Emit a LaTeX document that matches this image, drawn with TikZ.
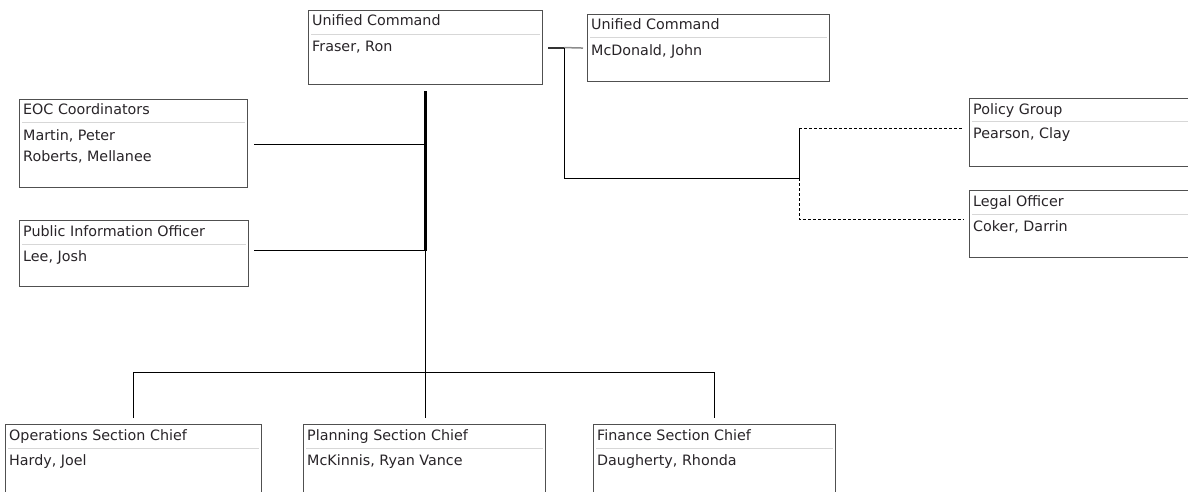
\documentclass[tikz,border=0pt]{standalone}
\usepackage{fontspec}
\setmainfont{DejaVu Sans}
\usetikzlibrary{positioning, calc}
\definecolor{boxgray}{RGB}{80,80,80}
\definecolor{sepgray}{RGB}{215,215,215}
\definecolor{txtgray}{RGB}{40,36,40}

\begin{document}
\begin{tikzpicture}[x=1pt, y=-1pt,
  orgbox/.style={draw=boxgray, line width=1.1pt, anchor=north west, inner sep=0pt, fill=white},
  title/.style={anchor=base west, inner sep=0pt, text=txtgray, font=\fontsize{14.3}{17}\selectfont},
  member/.style={title},
  sep/.style={draw=sepgray, line width=1pt},
  link/.style={line width=1pt, black},
  dashlink/.style={link, dash pattern=on 3pt off 2pt},
]
\useasboundingbox (0,0) rectangle (1188,492);
\clip (0,0) rectangle (1188,492);

% Command
\node[orgbox, minimum width=234pt, minimum height=74pt] (uc1) at (308,10) {};
\node[title] at ([shift={(4pt,-16pt)}]uc1.north west) {Unified Command};
\draw[sep] ([shift={(3pt,-25pt)}]uc1.north west) -- ([shift={(-3pt,-25pt)}]uc1.north east);
\node[member] at ([shift={(4pt,-42pt)}]uc1.north west) {Fraser, Ron};

\node[orgbox, minimum width=242pt, minimum height=67pt] (uc2) at (587,14) {};
\node[title] at ([shift={(4pt,-16pt)}]uc2.north west) {Unified Command};
\draw[sep] ([shift={(3pt,-24pt)}]uc2.north west) -- ([shift={(-3pt,-24pt)}]uc2.north east);
\node[member] at ([shift={(4pt,-42pt)}]uc2.north west) {McDonald, John};

% Command staff
\node[orgbox, minimum width=228pt, minimum height=88pt] (eoc) at (19,99) {};
\node[title] at ([shift={(4pt,-16pt)}]eoc.north west) {EOC Coordinators};
\draw[sep] ([shift={(3pt,-24pt)}]eoc.north west) -- ([shift={(-3pt,-24pt)}]eoc.north east);
\node[member] at ([shift={(4pt,-41pt)}]eoc.north west) {Martin, Peter};
\node[member] at ([shift={(4pt,-62pt)}]eoc.north west) {Roberts, Mellanee};

\node[orgbox, minimum width=229pt, minimum height=66pt] (pio) at (19,220) {};
\node[title] at ([shift={(4pt,-16pt)}]pio.north west) {Public Information Officer};
\draw[sep] ([shift={(3pt,-24pt)}]pio.north west) -- ([shift={(-3pt,-24pt)}]pio.north east);
\node[member] at ([shift={(4pt,-41pt)}]pio.north west) {Lee, Josh};

% Advisors
\node[orgbox, minimum width=226pt, minimum height=68pt] (policy) at (969,98) {};
\node[title] at ([shift={(4pt,-16pt)}]policy.north west) {Policy Group};
\draw[sep] ([shift={(3pt,-24pt)}]policy.north west) -- ([shift={(-3pt,-24pt)}]policy.north east);
\node[member] at ([shift={(4pt,-41pt)}]policy.north west) {Pearson, Clay};

\node[orgbox, minimum width=226pt, minimum height=67pt] (legal) at (969,190) {};
\node[title] at ([shift={(4pt,-16pt)}]legal.north west) {Legal Officer};
\draw[sep] ([shift={(3pt,-24pt)}]legal.north west) -- ([shift={(-3pt,-24pt)}]legal.north east);
\node[member] at ([shift={(4pt,-41pt)}]legal.north west) {Coker, Darrin};

% General staff
\node[orgbox, minimum width=256pt, minimum height=76pt] (ops) at (5,424) {};
\node[title] at ([shift={(4pt,-16pt)}]ops.north west) {Operations Section Chief};
\draw[sep] ([shift={(3pt,-24pt)}]ops.north west) -- ([shift={(-3pt,-24pt)}]ops.north east);
\node[member] at ([shift={(4pt,-41pt)}]ops.north west) {Hardy, Joel};

\node[orgbox, minimum width=242pt, minimum height=76pt] (plan) at (303,424) {};
\node[title] at ([shift={(4pt,-16pt)}]plan.north west) {Planning Section Chief};
\draw[sep] ([shift={(3pt,-24pt)}]plan.north west) -- ([shift={(-3pt,-24pt)}]plan.north east);
\node[member] at ([shift={(4pt,-41pt)}]plan.north west) {McKinnis, Ryan Vance};

\node[orgbox, minimum width=242pt, minimum height=76pt] (fin) at (593,424) {};
\node[title] at ([shift={(4pt,-16pt)}]fin.north west) {Finance Section Chief};
\draw[sep] ([shift={(3pt,-24pt)}]fin.north west) -- ([shift={(-3pt,-24pt)}]fin.north east);
\node[member] at ([shift={(4pt,-41pt)}]fin.north west) {Daugherty, Rhonda};

% connectors
\coordinate (trunktop) at ($(uc1.south)+(0,6)$);
\coordinate (eocJ) at ($(eoc.east)+(6,1)$);
\coordinate (pioJ) at ($(pio.east)+(5,-3)$);
\coordinate (busY) at (0,372);
\draw[link] (eocJ) -- (eocJ -| trunktop);
\draw[link] (pioJ) -- (pioJ -| trunktop);
\draw[line width=2.5pt] (trunktop) -- (trunktop |- pioJ);
\draw[link] (trunktop |- pioJ) -- ($(trunktop |- plan.north)+(0,-6)$);
\draw[link] ($(ops.north)+(0,-6)$) -- (ops.north |- busY) -- (fin.north |- busY) -- ($(fin.north)+(0,-6)$);

\coordinate (ucJ) at ($(uc1.east)+(5,0)$);
\coordinate (ucK) at ($(ucJ)+(16,0)$);
\coordinate (advJ) at (799,178);
\coordinate (polJ) at ($(policy.west)+(-6,-4)$);
\coordinate (legJ) at ($(legal.west)+(-6,-5)$);
\draw[line width=2pt, black!80] (ucJ) -- (ucK);
\draw[line width=1.5pt, black!45] (ucK) -- ($(uc2.west)+(-4,0)$);
\draw[link] (ucK) |- (advJ) -- (advJ |- polJ);
\draw[dashlink] (advJ |- polJ) -- (polJ);
\draw[dashlink] (advJ) |- (legJ);
\end{tikzpicture}
\end{document}
